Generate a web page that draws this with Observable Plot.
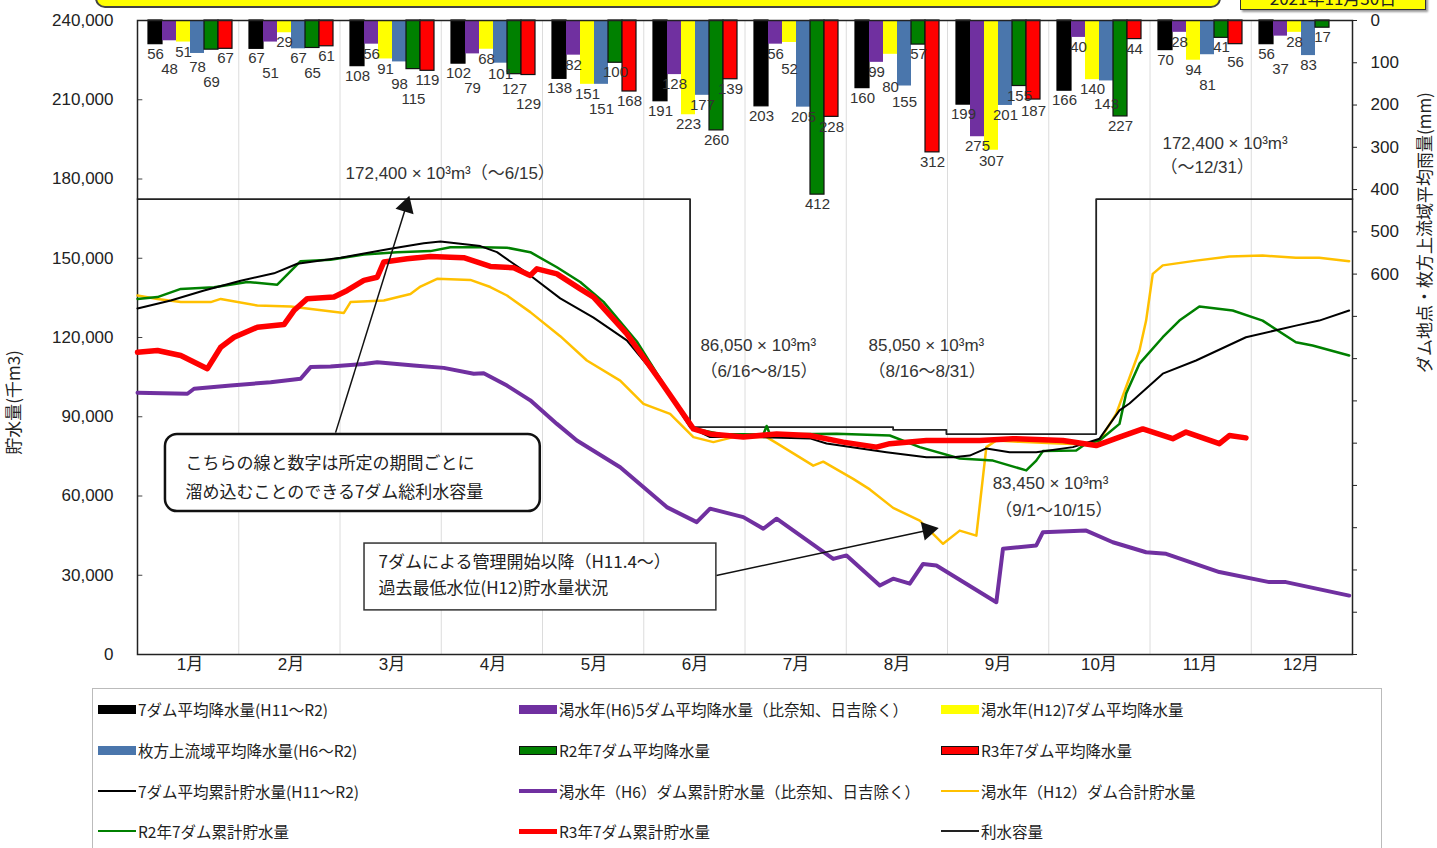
<!DOCTYPE html>
<html><head><meta charset="utf-8">
<script src="https://cdn.jsdelivr.net/npm/d3@7"></script>
<script src="https://cdn.jsdelivr.net/npm/@observablehq/plot@0.6"></script>
<style>
body{margin:0;background:#fff;font-family:'Liberation Sans','Noto Sans CJK JP',sans-serif;}
#wrap{position:relative;width:1437px;height:848px;overflow:hidden;background:#fff;}
#wrap svg{position:absolute;left:0;top:0;}
.legend{position:absolute;left:92px;top:688px;width:1290px;height:200px;border:1px solid #bbb;box-sizing:border-box;}
.item{position:absolute;display:flex;align-items:center;height:22px;font-size:15.5px;color:#222;white-space:nowrap;font-family:'Noto Sans CJK JP',sans-serif;}
.sw{width:38px;margin-right:2px;box-sizing:border-box;}
.topbox{position:absolute;background:#ffff00;z-index:5;box-sizing:border-box;}
</style></head>
<body>
<div id="wrap">
  <div class="topbox" style="left:95px;top:-30px;width:1126px;height:38px;border:2px solid #444;border-radius:10px;"></div>
  <div class="topbox" style="left:1240px;top:-26px;width:186px;height:36px;border:1.5px solid #333;box-shadow:2px 2px 2px #999;display:flex;align-items:flex-end;justify-content:center;padding-bottom:2px;font-size:17px;line-height:18px;font-family:'Noto Sans CJK JP',sans-serif;color:#222;">2021年11月30日</div>
  <div id="legend" class="legend"></div>
</div>
<script>
// ---------- data ----------
const months = ["1月","2月","3月","4月","5月","6月","7月","8月","9月","10月","11月","12月"];

// monthly rainfall (mm)
const rainAvg7     = [56, 67, 108, 102, 138, 191, 203, 160, 199, 166, 70, 56];
const rainH6       = [48, 51, 56, 79, 82, 128, 56, 99, 275, 40, 28, 37];
const rainH12      = [51, 29, 91, 68, 151, 223, 52, 80, 307, 140, 94, 28];
const rainHirakata = [78, 67, 98, 101, 151, 177, 205, 155, 201, 143, 81, 83];
const rainR2       = [69, 65, 115, 127, 100, 260, 412, 57, 155, 227, 41, 17];
const rainR3       = [67, 61, 119, 129, 168, 139, 228, 312, 187, 44, 56, null];

// storage (thousand m3), [day of year, value]
const storeAvg = [[0,131000],[10,134000],[20,137800],[31,141500],[41,144300],[48,147900],[61,150200],[76,153600],[86,155700],[91,156300],[103,154600],[108,152300],[118,143500],[127,134800],[137,127500],[147,118900],[157,103700],[166,86000],[172,82300],[187,82300],[202,81800],[207,79900],[225,76600],[237,74700],[245,74700],[250,75300],[255,78000],[262,76600],[270,76600],[281,78500],[289,81700],[295,92400],[298,95000],[308,106300],[318,111300],[333,120100],[348,124500],[355,126400],[364,130200]];
const storeR2 = [[0,134600],[6,135300],[13,138400],[23,139000],[33,141000],[42,140000],[49,148900],[58,149400],[68,151400],[78,152300],[88,152700],[94,154200],[103,154200],[111,154000],[118,152300],[126,146600],[133,141000],[140,133500],[150,118500],[160,98500],[167,85600],[175,83500],[188,83300],[189,86500],[190,83300],[210,83600],[226,82900],[235,78500],[247,74200],[257,73400],[267,69700],[270,73400],[272,77000],[282,77200],[285,79900],[289,81000],[295,87300],[297,98800],[301,110100],[308,120100],[313,126400],[319,131700],[329,130200],[338,126400],[348,118200],[353,117000],[364,113200]];
const storeR3 = [[0,114400],[6,115100],[13,113200],[21,108200],[25,116300],[29,120100],[36,123900],[44,124900],[47,130200],[51,134700],[59,135300],[63,137800],[68,141600],[72,142800],[74,148600],[81,149800],[88,150700],[98,150200],[106,146900],[113,146400],[118,143500],[120,146000],[126,144100],[133,138400],[137,135300],[147,121400],[157,103700],[167,85400],[172,83500],[182,82300],[192,83500],[202,82900],[212,80400],[222,78500],[226,79800],[237,81000],[253,81000],[263,81700],[278,81000],[288,79100],[295,82300],[302,85400],[311,81700],[315,84200],[325,79800],[328,82900],[333,82000]];
const storeH12 = [[0,135900],[6,134600],[13,133400],[22,133400],[25,134600],[36,132100],[46,131700],[62,129300],[64,133400],[74,134000],[82,136500],[85,139300],[90,142200],[100,141800],[106,139100],[111,135900],[118,129600],[127,120500],[135,111300],[145,103700],[152,94900],[160,91100],[167,82300],[173,80400],[179,82300],[189,82300],[192,80000],[203,71500],[206,73000],[215,66500],[220,62500],[227,55500],[235,50700],[242,41900],[247,46900],[252,45000],[255,78500],[258,81000],[265,80500],[275,80000],[285,79500],[289,81000],[294,91100],[301,115100],[303,126400],[305,144100],[308,147300],[318,149100],[328,150700],[338,151000],[348,150200],[355,150200],[364,148900]];
const storeH6 = [[0,99100],[15,98700],[17,100600],[28,101800],[40,103100],[49,104400],[52,108800],[58,109000],[68,110000],[72,110600],[83,109400],[92,108500],[101,106300],[104,106500],[111,101800],[118,96200],[126,87300],[132,81000],[145,70900],[159,55800],[168,50100],[172,55200],[182,52000],[188,47600],[192,51400],[209,36200],[213,37500],[223,26100],[227,28700],[232,26800],[236,34300],[240,33700],[258,19800],[260,40000],[270,41300],[272,46300],[285,46900],[293,42500],[303,38700],[309,38100],[325,31200],[340,27400],[345,27400],[364,22300]];

// storage capacity periods: [start day, value]
const capacitySteps = [[0,172400],[166,86050],[227,85050],[243,83450],[288,172400],[365,172400]];

const storageTicks = d3.range(0, 240001, 30000);
const rainTicks = d3.range(0, 1501, 100);

// ---------- styles ----------
const barSeries = [
  {label:"7ダム平均降水量(H11～R2)", values:rainAvg7, fill:"#000000", stroke:"#000000"},
  {label:"渇水年(H6)5ダム平均降水量（比奈知、日吉除く）", values:rainH6, fill:"#7030A0", stroke:"none"},
  {label:"渇水年(H12)7ダム平均降水量", values:rainH12, fill:"#FFFF00", stroke:"none"},
  {label:"枚方上流域平均降水量(H6～R2)", values:rainHirakata, fill:"#4A76AC", stroke:"none"},
  {label:"R2年7ダム平均降水量", values:rainR2, fill:"#008000", stroke:"#111111"},
  {label:"R3年7ダム平均降水量", values:rainR3, fill:"#FF0000", stroke:"#111111"}
];
const lineSeries = [
  {label:"7ダム平均累計貯水量(H11～R2)", data:storeAvg, color:"#000000", w:2},
  {label:"渇水年（H6）ダム累計貯水量（比奈知、日吉除く）", data:storeH6, color:"#7030A0", w:4},
  {label:"渇水年（H12）ダム合計貯水量", data:storeH12, color:"#FFC000", w:2.5},
  {label:"R2年7ダム累計貯水量", data:storeR2, color:"#008000", w:2.5},
  {label:"R3年7ダム累計貯水量", data:storeR3, color:"#FF0000", w:5.5},
  {label:"利水容量", data:capacitySteps, color:"#222222", w:1.8}
];
const drawOrder = [2, 1, 3, 0, 4];

const FONT = "'Liberation Sans','Noto Sans CJK JP',sans-serif";
const common = {width:1437, height:685, marginLeft:137, marginRight:85, marginTop:20, marginBottom:31};
const rainDomain = [0, 1500];

// ---------- bars plot (right axis, months) ----------
const rows = months.flatMap((m, i) => barSeries.map((s, k) => ({month:m, s:k, v:s.values[i]}))).filter(d => d.v != null);

// label placement: just below each bar end, pushed down when it would collide with its left neighbour
const yScale = Plot.scale({y:{domain:rainDomain, range:[common.marginTop, common.height - common.marginBottom]}});
const LABEL_GAP = 4, LABEL_H = 15;
const labelRows = [];
months.forEach(m => {
  let prevTop = null;
  rows.filter(d => d.month === m).forEach(d => {
    let top = yScale.apply(d.v) + LABEL_GAP;
    if (prevTop != null && Math.abs(top - prevTop) < LABEL_H) top = prevTop + LABEL_H;
    prevTop = top;
    labelRows.push({...d, ly: yScale.invert(top)});
  });
});

const barsPlot = Plot.plot({
  ...common,
  style:{fontFamily:FONT, fontSize:"17px", color:"#222", background:"transparent"},
  fx:{domain:months, padding:0, label:null, tickSize:0, tickPadding:3},
  x:{domain:d3.range(barSeries.length), paddingInner:0, paddingOuter:0.5, axis:null},
  y:{domain:rainDomain, reverse:true, axis:"right", ticks:rainTicks, tickFormat:d => d <= 600 ? String(d) : "", tickSize:5, tickPadding:14, label:null},
  marks:[
    ...barSeries.map((s, k) => Plot.barY(rows.filter(d => d.s === k), {fx:"month", x:"s", y:"v", fill:s.fill, stroke:s.stroke, strokeWidth:1.2, inset:0})),
    Plot.text(labelRows, {fx:"month", x:"s", y:"ly", text:d => String(d.v), lineAnchor:"top", fontSize:15, fill:"#333"})
  ]
});

// ---------- lines plot (left axis) ----------
const annoText = [
  {x:62.5, y:182100, t:"172,400 × 10³m³（～6/15）"},
  {x:169.1, y:117000, t:"86,050 × 10³m³"},
  {x:169.1, y:107100, t:"（6/16～8/15）"},
  {x:219.6, y:117000, t:"85,050 × 10³m³"},
  {x:219.6, y:107100, t:"（8/16～8/31）"},
  {x:256.9, y:64700, t:"83,450 × 10³m³"},
  {x:257.7, y:54500, t:"（9/1～10/15）"},
  {x:307.9, y:193400, t:"172,400 × 10³m³"},
  {x:307.3, y:184400, t:"（～12/31）"}
];
const boxes = [
  {x1:8.4, x2:121, y1:54100, y2:83300},
  {x1:68.2, x2:173.9, y1:16700, y2:42000}
];
const boxText = [
  {x:14.4, y:72300, t:"こちらの線と数字は所定の期間ごとに"},
  {x:14.4, y:61300, t:"溜め込むことのできる7ダム総利水容量"},
  {x:72.4, y:34800, t:"7ダムによる管理開始以降（H11.4～）"},
  {x:72.4, y:25000, t:"過去最低水位(H12)貯水量状況"}
];
const arrows = [
  {x1:59.5, y1:84000, x2:80.7, y2:169700, rot:17},
  {x1:173.9, y1:29900, x2:237.5, y2:47050, rot:78}
];

const linesPlot = Plot.plot({
  ...common,
  style:{fontFamily:FONT, fontSize:"17px", color:"#222", background:"transparent"},
  x:{domain:[0,365], axis:null},
  y:{domain:[0,240000], axis:"left", ticks:storageTicks, tickFormat:d3.format(","), tickSize:0, tickPadding:24, label:null},
  marks:[
    Plot.ruleX(d3.range(1, 12).map(i => i * 365 / 12), {stroke:"#dcdcdc", strokeWidth:1}),
    Plot.ruleY(storageTicks, {y:d => d, x1:0, x2:1.6, stroke:"#444"}),
    Plot.frame({stroke:"#222", strokeWidth:1.5}),
    Plot.line(capacitySteps, {x:d => d[0], y:d => d[1], curve:"step-after", stroke:"#222", strokeWidth:1.8}),
    ...drawOrder.map(i => Plot.line(lineSeries[i].data, {x:d => d[0], y:d => d[1], stroke:lineSeries[i].color, strokeWidth:lineSeries[i].w, strokeLinejoin:"round", strokeLinecap:"round"})),
    Plot.text(annoText, {x:"x", y:"y", text:"t", textAnchor:"start", fontSize:17, fill:"#333"}),
    Plot.link(arrows, {x1:"x1", y1:"y1", x2:"x2", y2:"y2", stroke:"#111", strokeWidth:1.5}),
    Plot.dot(arrows, {x:"x2", y:"y2", rotate:"rot", symbol:"triangle", r:7, fill:"#111", stroke:"none"}),
    Plot.rect(boxes.slice(0,1), {x1:"x1", x2:"x2", y1:"y1", y2:"y2", fill:"white", stroke:"#111", strokeWidth:2.5, rx:12}),
    Plot.rect(boxes.slice(1), {x1:"x1", x2:"x2", y1:"y1", y2:"y2", fill:"white", stroke:"#333", strokeWidth:1.5}),
    Plot.text(boxText, {x:"x", y:"y", text:"t", textAnchor:"start", fontSize:17, fill:"#222", fontFamily:"'Noto Sans CJK JP',sans-serif"}),
    Plot.text(["貯水量(千m3)"], {frameAnchor:"left", dx:-123, y:95400, rotate:-90, textAnchor:"middle", fontSize:17, fill:"#222", fontFamily:"'Noto Sans CJK JP',sans-serif"}),
    Plot.text(["ダム地点・枚方上流域平均雨量(mm)"], {frameAnchor:"right", dx:73, y:159700, rotate:-90, textAnchor:"middle", fontSize:17, fill:"#222", fontFamily:"'Noto Sans CJK JP',sans-serif"})
  ]
});

const wrap = document.getElementById("wrap");
wrap.insertBefore(linesPlot, wrap.firstChild);
wrap.insertBefore(barsPlot, wrap.firstChild);

// ---------- legend ----------
const legendItems = [
  ...barSeries.map(s => ({label:s.label, type:"bar", color:s.fill, stroke:s.stroke})),
  ...lineSeries.map(s => ({label:s.label, type:"line", color:s.color, w:s.w}))
];
const colX = [5, 426, 848];
const rowY = [9, 50, 91, 131];
const legend = document.getElementById("legend");
legendItems.forEach((it, i) => {
  const el = document.createElement("div");
  el.className = "item";
  el.style.left = colX[i % 3] + "px";
  el.style.top = rowY[Math.floor(i / 3)] + "px";
  const sw = document.createElement("div");
  sw.className = "sw";
  if (it.type === "bar") {
    sw.style.height = "9px";
    sw.style.background = it.color;
    if (it.stroke !== "none") sw.style.border = "1.5px solid " + it.stroke;
  } else {
    sw.style.height = Math.max(2, Math.min(5, it.w)) + "px";
    sw.style.background = it.color;
  }
  const tx = document.createElement("span");
  tx.textContent = it.label;
  el.appendChild(sw); el.appendChild(tx);
  legend.appendChild(el);
});
</script>
</body></html>
